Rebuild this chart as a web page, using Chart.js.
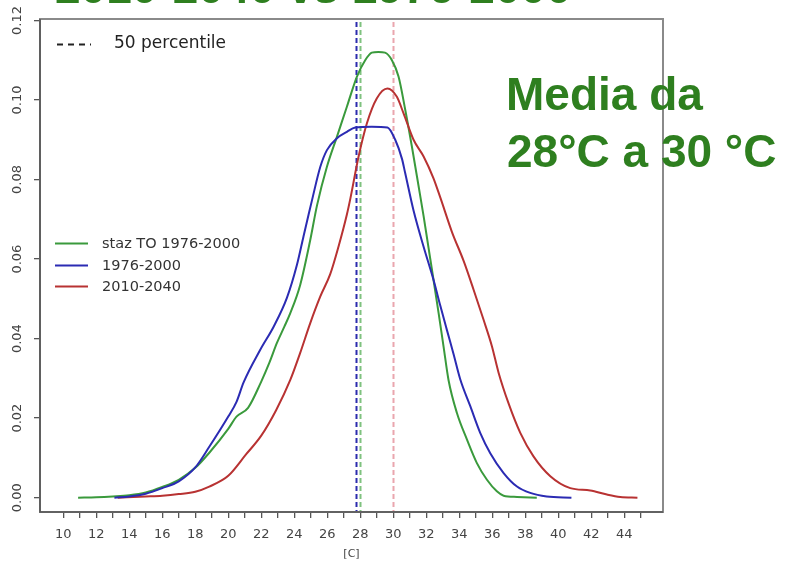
<!DOCTYPE html>
<html>
<head>
<meta charset="utf-8">
<script src="https://cdn.jsdelivr.net/npm/chart.js@4/dist/chart.umd.min.js"></script>
<style>
  html, body { margin: 0; padding: 0; background: #ffffff; }
  #wrap { position: relative; width: 787px; height: 561px; overflow: hidden; }
  canvas { display: block; }
</style>
</head>
<body>
<div id="wrap"><canvas id="c" width="787" height="561"></canvas></div>
<script>
// Daily max temperature density [C], three samples
const stazX = [10.9, 12.0, 13.0, 14.0, 15.0, 16.0, 17.0, 18.0, 18.85, 20.0, 20.5, 21.2, 22.0, 22.5, 22.95, 23.4, 23.76, 24.36, 24.97, 25.38, 25.98, 26.59, 27.19, 27.8, 28.3, 28.7, 29.1, 29.5, 29.92, 30.32, 30.73, 31.13, 31.53, 31.84, 32.14, 32.44, 32.75, 33.05, 33.35, 33.86, 34.47, 35.07, 35.68, 36.28, 36.69, 37.5, 38.7];
const stazY = [0, 0.0001, 0.0003, 0.0006, 0.0013, 0.0027, 0.0045, 0.0075, 0.0113, 0.0173, 0.0204, 0.0226, 0.0292, 0.034, 0.0389, 0.043, 0.0464, 0.0535, 0.0648, 0.0735, 0.0832, 0.0908, 0.0983, 0.1059, 0.110, 0.1119, 0.1121, 0.1119, 0.110, 0.1059, 0.0975, 0.0883, 0.0785, 0.0708, 0.0628, 0.0548, 0.0464, 0.038, 0.0296, 0.0213, 0.0146, 0.0087, 0.0045, 0.0016, 0.0005, 0.0002, 0];

const histX = [13.1, 14.0, 15.0, 16.0, 17.0, 18.0, 18.85, 20.0, 20.5, 20.93, 21.94, 22.75, 23.56, 24.16, 24.56, 24.87, 25.07, 25.58, 25.98, 26.59, 27.19, 27.7, 28.7, 29.65, 30.12, 30.53, 30.72, 31.23, 31.84, 32.44, 32.85, 33.25, 33.65, 34.06, 34.67, 35.27, 35.88, 36.69, 37.5, 38.3, 39.3, 40.8];
const histY = [0, 0.0003, 0.001, 0.0024, 0.0041, 0.0076, 0.0128, 0.0204, 0.0241, 0.029, 0.0372, 0.043, 0.0503, 0.0585, 0.0657, 0.0712, 0.0747, 0.0832, 0.0874, 0.0904, 0.092, 0.0931, 0.0933, 0.0931, 0.090, 0.0852, 0.0817, 0.0722, 0.0631, 0.0548, 0.0483, 0.0422, 0.0362, 0.0298, 0.023, 0.0163, 0.0112, 0.0062, 0.0028, 0.0012, 0.0003, 0];

const futX = [13.3, 15.0, 16.0, 17.0, 18.0, 18.85, 20.0, 21.1, 22.0, 22.9, 23.76, 24.36, 24.97, 25.58, 26.18, 26.68, 27.19, 27.4, 27.9, 28.4, 29.0, 29.65, 30.22, 30.62, 31.23, 31.84, 32.44, 32.85, 33.56, 34.26, 34.87, 35.47, 35.98, 36.38, 36.99, 37.7, 38.5, 39.52, 40.73, 41.94, 42.95, 43.76, 44.8];
const futY = [0, 0.0003, 0.0005, 0.0009, 0.0015, 0.0028, 0.0055, 0.011, 0.0156, 0.022, 0.0296, 0.0364, 0.0439, 0.0506, 0.0562, 0.0631, 0.0712, 0.0752, 0.0858, 0.0941, 0.1004, 0.1029, 0.1008, 0.0967, 0.090, 0.0858, 0.0803, 0.0755, 0.0668, 0.0596, 0.0523, 0.0448, 0.0381, 0.0315, 0.0237, 0.0163, 0.0104, 0.0054, 0.0024, 0.0018, 0.0008, 0.0002, 0];

// 50th percentile of each sample
const medianStaz = 28.0;
const medianHist = 27.75;
const medianFut = 30.0;

const seriesNames = ['staz TO 1976-2000', '1976-2000', '2010-2040'];
const percentileLabel = '50 percentile';

const xTicks = [10, 11, 12, 13, 14, 15, 16, 17, 18, 19, 20, 21, 22, 23, 24, 25, 26, 27, 28, 29, 30, 31, 32, 33, 34, 35, 36, 37, 38, 39, 40, 41, 42, 43, 44, 45];
const xTickLabels = [10, 12, 14, 16, 18, 20, 22, 24, 26, 28, 30, 32, 34, 36, 38, 40, 42, 44];
const yTicks = [0, 0.02, 0.04, 0.06, 0.08, 0.10, 0.12];
const yTickLabels = ['0.00', '0.02', '0.04', '0.06', '0.08', '0.10', '0.12'];

const titleText = '2010-2040 vs 1976-2000';
const noteLines = ['Media da', '28\u00B0C a 30 \u00B0C'];

const GREEN = '#3a9a3c';
const BLUE = '#2b2bb3';
const RED = '#b83232';

const zip = (xs, ys) => xs.map((x, i) => ({ x: x, y: ys[i] }));

const lineDs = (label, pts, color) => ({
  label: label,
  data: pts,
  borderColor: color,
  borderWidth: 2,
  pointRadius: 0,
  fill: false,
  cubicInterpolationMode: 'monotone'
});

// Frame box and vertical percentile lines
const framePlugin = {
  id: 'frame',
  beforeDatasetsDraw(chart) {
    const { ctx, chartArea: a, scales: { x } } = chart;
    const meds = [[medianHist, '#2c2cae'], [medianStaz, '#7fc27f'], [medianFut, '#eaa6ae']];
    ctx.save();
    ctx.lineWidth = 2;
    ctx.setLineDash([5, 3]);
    meds.forEach(([m, c]) => {
      const px = Math.round(x.getPixelForValue(m)) + 0.5;
      ctx.strokeStyle = c;
      ctx.beginPath();
      ctx.moveTo(px, a.top + 3);
      ctx.lineTo(px, a.bottom);
      ctx.stroke();
    });
    ctx.restore();
  },
  afterDraw(chart) {
    const { ctx, chartArea: a, scales: { y } } = chart;
    ctx.save();
    // box
    ctx.strokeStyle = '#8a8a8a';
    ctx.lineWidth = 2;
    ctx.strokeRect(a.left, a.top, a.right - a.left, a.bottom - a.top);
    ctx.strokeStyle = '#555';
    ctx.lineWidth = 1.6;
    ctx.beginPath();
    ctx.moveTo(a.left, a.top);
    ctx.lineTo(a.left, a.bottom);
    ctx.lineTo(a.right, a.bottom);
    ctx.stroke();

    // rotated y labels
    ctx.fillStyle = '#444';
    ctx.font = '13px "DejaVu Sans"';
    ctx.textAlign = 'center';
    ctx.textBaseline = 'middle';
    yTicks.forEach((v, i) => {
      const py = y.getPixelForValue(v);
      ctx.save();
      ctx.translate(18, py);
      ctx.rotate(-Math.PI / 2);
      ctx.fillText(yTickLabels[i], 0, 0);
      ctx.restore();
    });

    // legend: percentile
    ctx.strokeStyle = '#222';
    ctx.lineWidth = 2;
    ctx.setLineDash([6, 5]);
    ctx.beginPath();
    ctx.moveTo(57, 44.5);
    ctx.lineTo(91, 44.5);
    ctx.stroke();
    ctx.setLineDash([]);
    ctx.fillStyle = '#222';
    ctx.font = '17px "DejaVu Sans"';
    ctx.textAlign = 'left';
    ctx.fillText(percentileLabel, 114, 44);

    // legend: series
    const cols = [GREEN, BLUE, RED];
    const rows = [243, 265, 286];
    ctx.font = '14.5px "DejaVu Sans"';
    ctx.fillStyle = '#333';
    rows.forEach((ry, i) => {
      ctx.strokeStyle = cols[i];
      ctx.lineWidth = 2;
      ctx.beginPath();
      ctx.moveTo(55, ry + 0.5);
      ctx.lineTo(88, ry + 0.5);
      ctx.stroke();
      ctx.fillText(seriesNames[i], 102, ry + 1);
    });

    // green headline and note
    ctx.fillStyle = '#2e7f1f';
    ctx.font = 'bold 46px "Liberation Sans"';
    ctx.textBaseline = 'alphabetic';
    ctx.fillText(titleText, 55, 3);
    ctx.fillText(noteLines[0], 506, 110);
    ctx.fillText(noteLines[1], 507, 167);
    ctx.restore();
  }
};

new Chart(document.getElementById('c'), {
  type: 'line',
  data: {
    datasets: [
      lineDs(seriesNames[1], zip(histX, histY), BLUE),
      lineDs(seriesNames[2], zip(futX, futY), RED),
      lineDs(seriesNames[0], zip(stazX, stazY), GREEN)
    ]
  },
  options: {
    responsive: false,
    animation: false,
    devicePixelRatio: 1,
    layout: { padding: { top: 19, right: 124, left: 0, bottom: 0 } },
    plugins: { legend: { display: false }, tooltip: { enabled: false } },
    scales: {
      x: {
        type: 'linear',
        min: 8.59,
        max: 46.35,
        afterBuildTicks: s => { s.ticks = xTicks.map(v => ({ value: v })); },
        afterFit: s => { s.height = 49; },
        border: { display: false },
        grid: { drawOnChartArea: false, drawTicks: true, tickLength: 6, color: '#555', lineWidth: 1.3 },
        ticks: {
          autoSkip: false, maxRotation: 0, minRotation: 0, padding: 9,
          color: '#444', font: { family: 'DejaVu Sans', size: 13 },
          callback: v => xTickLabels.includes(Math.round(v)) && Math.abs(v - Math.round(v)) < 1e-6 ? String(Math.round(v)) : ''
        },
        title: { display: true, text: '[C]', color: '#444', font: { family: 'DejaVu Sans', size: 11 }, padding: { top: 0, bottom: 0 } }
      },
      y: {
        min: -0.0036,
        max: 0.12037,
        afterBuildTicks: s => { s.ticks = yTicks.map(v => ({ value: v })); },
        afterFit: s => { s.width = 40; },
        border: { display: false },
        grid: { drawOnChartArea: false, drawTicks: true, tickLength: 6, color: '#555', lineWidth: 1.3 },
        ticks: { display: false }
      }
    }
  },
  plugins: [framePlugin]
});
</script>
</body>
</html>
